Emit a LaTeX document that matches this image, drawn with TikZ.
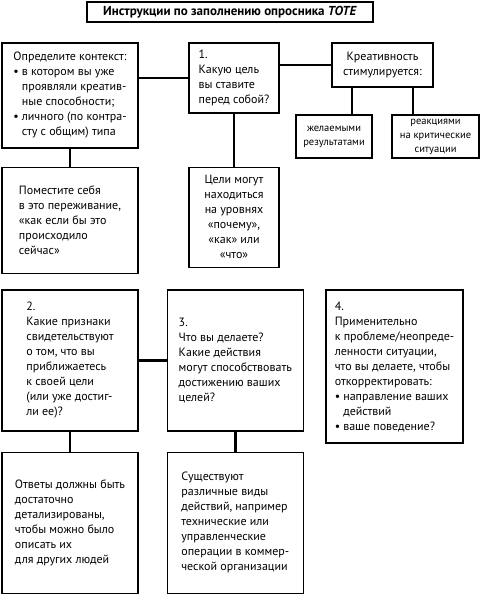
\documentclass[tikz,border=0pt]{standalone}
\usepackage{fontspec}
\setmainfont{PT Sans}
\usetikzlibrary{positioning}
\tikzset{block/.style={draw,line width=1.3pt,align=left,inner sep=0pt,font=\fontsize{12}{15}\selectfont},
         small/.style={block,align=center,font=\fontsize{10.5}{14}\selectfont},
         line/.style={line width=2.8pt}
}
\newcommand{\bul}{\makebox[8.5pt][l]{\textbullet}}
\newcommand{\hang}{\hspace*{8.5pt}}

\begin{document}
\begin{tikzpicture}[x=1pt,y=-1pt]
\useasboundingbox (0,0) rectangle (482,594);

% top row
\node[block,align=center,minimum width=286pt,minimum height=20pt,font=\bfseries\fontsize{13}{15}\selectfont] (title) at (230,12) {Инструкции по заполнению опросника \textit{TOTE}};
\node[block,minimum width=136pt,minimum height=105pt] (ctx) at (70,95.5) {Определите контекст:\\ \bul в котором вы уже\\ \hang проявляли креатив-\\ \hang ные способности;\\ \bul личного (по контра-\\ \hang сту с общим) типа};
\node[block,minimum width=90pt,minimum height=70pt] (goal) at (234,78) {1.\\ Какую цель\\ вы ставите\\ перед собой?};
\node[block,align=center,minimum width=101pt,minimum height=44pt] (creat) at (382.5,65) {Креативность\\ стимулируется:};
\node[small,minimum width=76pt,minimum height=43pt] (wish) at (334,136.5) {желаемыми\\ результатами};
\node[small,minimum width=87pt,minimum height=43pt] (react) at (435.5,136.5) {реакциями\\ на критические\\ ситуации};
\node[block,minimum width=136pt,minimum height=106pt,below=18pt of ctx] (place) {Поместите себя\\ в это переживание,\\ «как если бы это\\ происходило\\ сейчас»};
\node[block,align=center,minimum width=90pt,minimum height=100pt,below=53pt of goal] (levels) {Цели могут\\ находиться\\ на уровнях\\ «почему»,\\ «как» или\\ «что»};

% bottom rows
\node[block,minimum width=136pt,minimum height=141pt] (signs) at (70,360.5) {2.\\ Какие признаки\\ свидетельствуют\\ о том, что вы\\ приближаетесь\\ к своей цели\\ (или уже достиг-\\ ли ее)?};
\node[block,minimum width=136pt,minimum height=141pt,right=28pt of signs] (act) {3.\\ Что вы делаете?\\ Какие действия\\ могут способствовать\\ достижению ваших\\ целей?};
\node[block,minimum width=137pt,minimum height=153pt] (fix) at (394.5,366.5) {4.\\ Применительно\\ к проблеме/неопреде-\\ ленности ситуации,\\ что вы делаете, чтобы\\ откорректировать:\\ \bul направление ваших\\ \hang действий\\ \bul ваше поведение?};
\node[block,minimum width=136pt,minimum height=141pt,below=20pt of signs] (answ) {Ответы должны быть\\ достаточно\\ детализированы,\\ чтобы можно было\\ описать их\\ для других людей};
\node[block,minimum width=136pt,minimum height=141pt,below=20pt of act] (kinds) {Существуют\\ различные виды\\ действий, например\\ технические или\\ управленческие\\ операции в коммер-\\ ческой организации};

% connectors
\draw[line] (goal.west) -- (goal.west -| ctx.east);
\draw[line] (creat.west) -- (creat.west -| goal.east);
\draw[line] ([xshift=18pt]wish.north) -- ([xshift=18pt]wish.north |- creat.south);
\draw[line] ([xshift=-22.5pt]react.north) -- ([xshift=-22.5pt]react.north |- creat.south);
\draw[line] (ctx) -- (place);
\draw[line] (goal) -- (levels);
\draw[line] (signs) -- (act);
\draw[line] (signs) -- (answ);
\draw[line] (act) -- (kinds);

\end{tikzpicture}
\end{document}
